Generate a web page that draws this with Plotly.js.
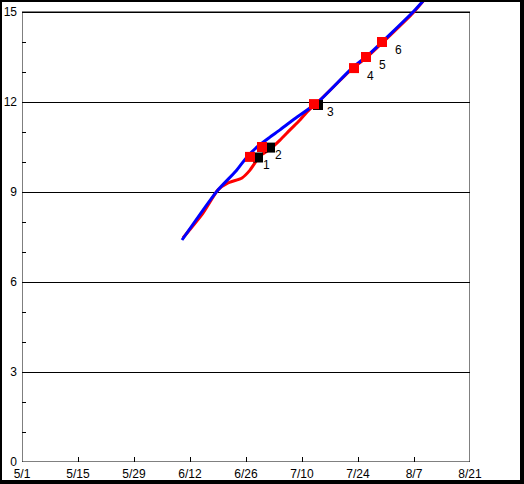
<!DOCTYPE html>
<html>
<head>
<meta charset="utf-8">
<script src="https://cdn.plot.ly/plotly-3.0.1.min.js"></script>
<style>
html,body{margin:0;padding:0;background:#fff;}
#wrap{position:relative;width:524px;height:484px;}
#chart{position:absolute;left:0;top:0;width:524px;height:484px;}
#frame{position:absolute;left:0;top:0;width:524px;height:484px;box-sizing:border-box;
  border-left:2px solid #000;border-top:2px solid #000;border-right:4px solid #000;border-bottom:4px solid #000;pointer-events:none;}
</style>
</head>
<body>
<div id="wrap"><div id="chart"></div><div id="frame"></div></div>
<script>
// Axis ticks
const xTickVals = ['2001-05-01','2001-05-15','2001-05-29','2001-06-12','2001-06-26','2001-07-10','2001-07-24','2001-08-07','2001-08-21'];
const xTickText = ['5/1','5/15','5/29','6/12','6/26','7/10','7/24','8/7','8/21'];
const yTickVals = [0,3,6,9,12,15];
const yTickText = ['0','3','6','9','12','15'];
const yMinorVals = [1,2,4,5,7,8,10,11,13,14];

// Blue series
const blueDates = ['2001-06-10','2001-06-18 18:00','2001-06-23 12:00','2001-06-26 06:00','2001-06-28 18:00','2001-07-02','2001-07-04 12:00','2001-07-07 18:00','2001-07-14','2001-07-22 12:00','2001-07-26 06:00','2001-08-06 18:00','2001-08-09 12:00'];
const blueValues = [7.40,9.03,9.70,10.17,10.50,10.83,11.07,11.40,12.00,13.13,13.53,15.00,15.40];

// Red series
const redDates = ['2001-06-10 06:00','2001-06-15 06:00','2001-06-19','2001-06-21 12:00','2001-06-25','2001-06-27','2001-06-29 12:00','2001-07-02','2001-07-04 12:00','2001-07-07','2001-07-09 12:00','2001-07-11 12:00','2001-07-14','2001-07-22 12:00','2001-07-26 06:00','2001-08-06 18:00','2001-08-09 12:00'];
const redValues = [7.47,8.30,9.07,9.30,9.47,9.73,10.20,10.43,10.73,11.07,11.40,11.70,12.00,13.10,13.50,14.97,15.40];

// Red labelled points
const redPtDates = ['2001-06-27','2001-06-30','2001-07-13','2001-07-23','2001-07-26','2001-07-30'];
const redPtValues = [10.17,10.50,11.93,13.13,13.50,14.00];
const redPtLabels = ['1','2','3','4','5','6'];

// Black points
const blackPtDates = ['2001-06-29','2001-07-02','2001-07-14'];
const blackPtValues = [10.15,10.48,11.90];

const FONT = 'Liberation Sans, Arial, sans-serif';

const traces = [
  {x: redDates, y: redValues, type:'scatter', mode:'lines', line:{color:'#ff0000', width:3, shape:'spline', smoothing:0.6}, hoverinfo:'skip'},
  {x: blueDates, y: blueValues, type:'scatter', mode:'lines', line:{color:'#0000ff', width:3, shape:'spline', smoothing:0.6}, hoverinfo:'skip'},
  {x: blackPtDates, y: blackPtValues, type:'scatter', mode:'markers', marker:{symbol:'square', size:10, color:'#000000', line:{width:0}}, hoverinfo:'skip'},
  {x: redPtDates, y: redPtValues, type:'scatter', mode:'markers', marker:{symbol:'square', size:10, color:'#ff0000', line:{width:0}}, hoverinfo:'skip'}
];

const annotations = redPtLabels.map((t,i)=>({
  x: redPtDates[i], y: redPtValues[i], text: t, showarrow:false,
  xanchor:'center', yanchor:'middle', xshift:16, yshift:-8,
  font:{family:FONT, size:12, color:'#000'}
}));

const layout = {
  width:524, height:484,
  margin:{l:22, r:54, t:2, b:22, pad:0},
  paper_bgcolor:'#fff', plot_bgcolor:'#fff',
  showlegend:false,
  font:{family:FONT, size:12, color:'#000'},
  xaxis:{
    type:'date', range:['2001-05-01','2001-08-21'],
    tickmode:'array', tickvals:xTickVals, ticktext:xTickText,
    ticks:'inside', ticklen:5, tickwidth:1, tickcolor:'#000',
    ticklabelstandoff:3,
    showgrid:false, zeroline:false, showline:false,
    tickfont:{family:FONT, size:12, color:'#000'}
  },
  yaxis:{
    range:[0, 460/30],
    tickmode:'array', tickvals:yTickVals, ticktext:yTickText,
    ticks:'inside', ticklen:4, tickwidth:1, tickcolor:'#000',
    ticklabelstandoff:4,
    showgrid:true, gridcolor:'#000', gridwidth:1,
    zeroline:false, showline:false,
    minor:{tickmode:'array', tickvals:yMinorVals, ticks:'inside', ticklen:4, tickcolor:'#000', showgrid:false},
    tickfont:{family:FONT, size:12, color:'#000'}
  },
  shapes:[
    {type:'rect', xref:'x', yref:'y', x0:'2001-05-01', x1:'2001-08-21', y0:0, y1:15, line:{color:'#000', width:1}, layer:'below'}
  ],
  annotations: annotations
};

Plotly.newPlot('chart', traces, layout, {staticPlot:true, displayModeBar:false});
</script>
</body>
</html>
